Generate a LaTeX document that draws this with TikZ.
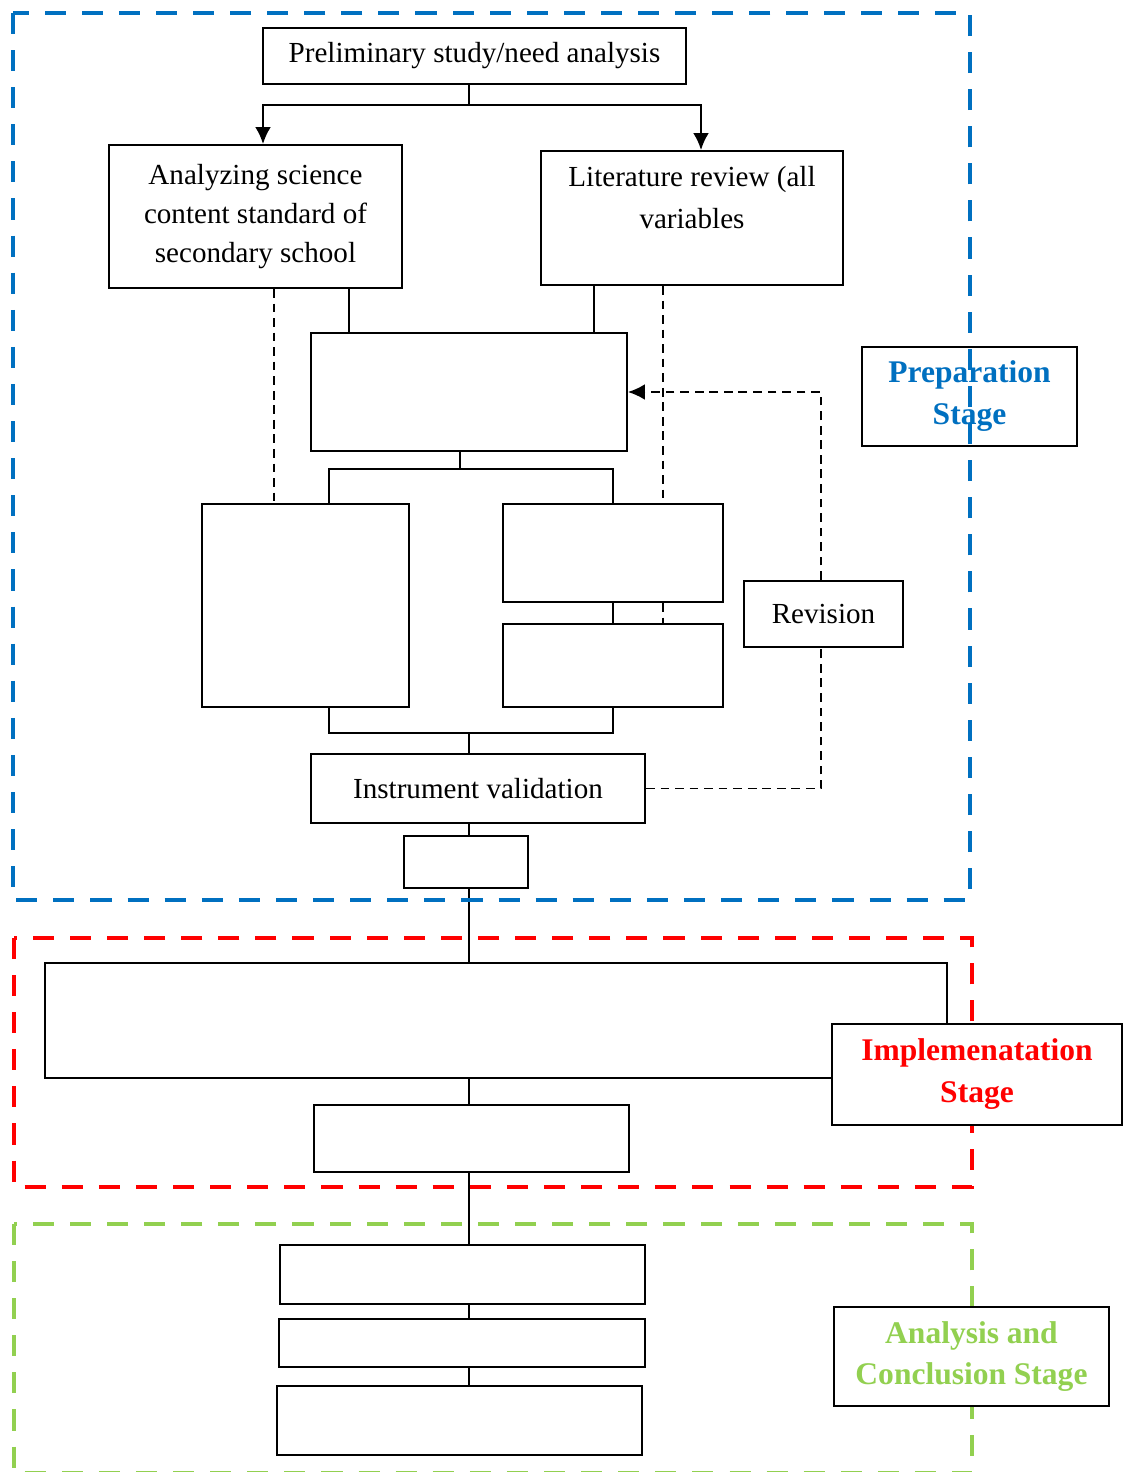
\documentclass[tikz,border=0pt]{standalone}
\usepackage{fontspec}
\setmainfont{Liberation Serif}
\usetikzlibrary{arrows.meta}
\definecolor{prepblue}{HTML}{0070C0}
\definecolor{implred}{HTML}{FF0000}
\definecolor{anagreen}{HTML}{92D050}
\newcommand{\pxu}{0.0145cm}

\begin{document}
\begin{tikzpicture}[
    x=\pxu, y=-\pxu,
    >={Latex[length=7pt,width=6.5pt]}, % filled arrow heads
    box/.style={draw, line width=0.8pt, fill=white, inner sep=0pt, align=center,
        font=\fontsize{12}{16}\selectfont},
    dims/.style 2 args={minimum width=#1*\pxu, minimum height=#2*\pxu},
    stage/.style={box, font=\fontsize{13}{17.3}\selectfont\bfseries},
    link/.style={line width=0.8pt},
    back/.style={line width=0.7pt, dash pattern=on 3.6pt off 2.4pt},
    frame/.style={line width=1.9pt, dash pattern=on 8.7pt off 6.6pt}
]
    \useasboundingbox (0,0) rectangle (1125,1472);

    % --- 1. stage frames behind the boxes ---
    \draw[frame, implred] (14,938) rectangle (972,1187);
    \draw[frame, anagreen] (14,1224) rectangle (972,1473);

    % --- 2. preparation stage ---
    \node[box, dims={423}{56}] (prelim) at (474.5,56) {Preliminary study/need analysis};
    \node[box, dims={293}{143}] (analyze) at (255.5,216.5)
        {Analyzing science\\content standard of\\secondary school};
    \node[box, dims={302}{134}, font=\fontsize{12}{17}\selectfont] (lit) at (692,218)
        {Literature review (all\\variables\\\mbox{}};
    \node[box, dims={316}{118}] (design) at (469,392) {};
    \node[box, dims={207}{203}] (leftcol) at (305.5,605.5) {};
    \node[box, dims={220}{98}] (rightup) at (613,553) {};
    \node[box, dims={220}{83}] (rightlow) at (613,665.5) {};
    \node[box, dims={334}{69}] (instr) at (478,788.5) {Instrument validation};
    \node[box, dims={159}{66}] (rev) at (823.5,614) {Revision};
    \node[box, dims={124}{52}] (pilot) at (466,862) {};

    % --- 3. implementation stage ---
    \node[box, dims={902}{115}] (wide) at (496,1020.5) {};
    \node[box, dims={315}{67}] (mid) at (471.5,1138.5) {};

    % --- 4. analysis and conclusion stage ---
    \node[box, dims={365}{59}] (out1) at (462.5,1274.5) {};
    \node[box, dims={366}{48}] (out2) at (462,1343) {};
    \node[box, dims={365}{69}] (out3) at (459.5,1420.5) {};

    % stage labels
    \node[stage, dims={215}{99}, text=prepblue] (lblprep) at (969.5,396.5) {Preparation\\Stage};
    \node[stage, dims={290}{101}, text=implred] (lblimpl) at (977,1074.5) {Implemenatation\\Stage};
    \node[stage, dims={275}{99}, text=anagreen] (lblana) at (971.5,1356.5) {Analysis and\\Conclusion Stage};

    % --- 5. connectors ---
    \coordinate (spine) at (469,0);
    \coordinate (split) at (469,105);
    \draw[link] (prelim.south -| spine) -- (split);
    \draw[link, ->] (split) -| (263,0 |- analyze.north);
    \draw[link, ->] (split) -| (701,0 |- lit.north);

    \draw[link] (349,0 |- analyze.south) -- (349,0 |- design.north);
    \draw[link] (594,0 |- lit.south) -- (594,0 |- design.north);
    \draw[back] (274,0 |- analyze.south) -- (274,0 |- leftcol.north);
    \draw[back] (663,0 |- lit.south) -- (663,0 |- rightup.north);
    \draw[back] (663,0 |- rightup.south) -- (663,0 |- rightlow.north);

    \coordinate (fork) at (460,469);
    \draw[link] (fork |- design.south) -- (fork);
    \draw[link] (329,0 |- leftcol.north) |- (fork) -| (rightup.north);
    \draw[link] (rightup.south) -- (rightlow.north);

    \coordinate (join) at (469,733);
    \draw[link] (329,0 |- leftcol.south) |- (join) -| (rightlow.south);
    \draw[link] (join) -- (instr.north -| spine);

    % revision loop
    \draw[back] (instr.east) -| (821,0 |- rev.south);
    \draw[back, ->] (821,0 |- rev.north) |- (design.east);

    % main spine down through the stages
    \foreach \a/\b in {instr/pilot, pilot/wide, wide/mid, mid/out1, out1/out2, out2/out3}
        \draw[link] (\a.south -| spine) -- (\b.north -| spine);

    % --- 6. preparation frame on top ---
    \draw[frame, prepblue] (13,13) rectangle (970,900);

\end{tikzpicture}
\end{document}
